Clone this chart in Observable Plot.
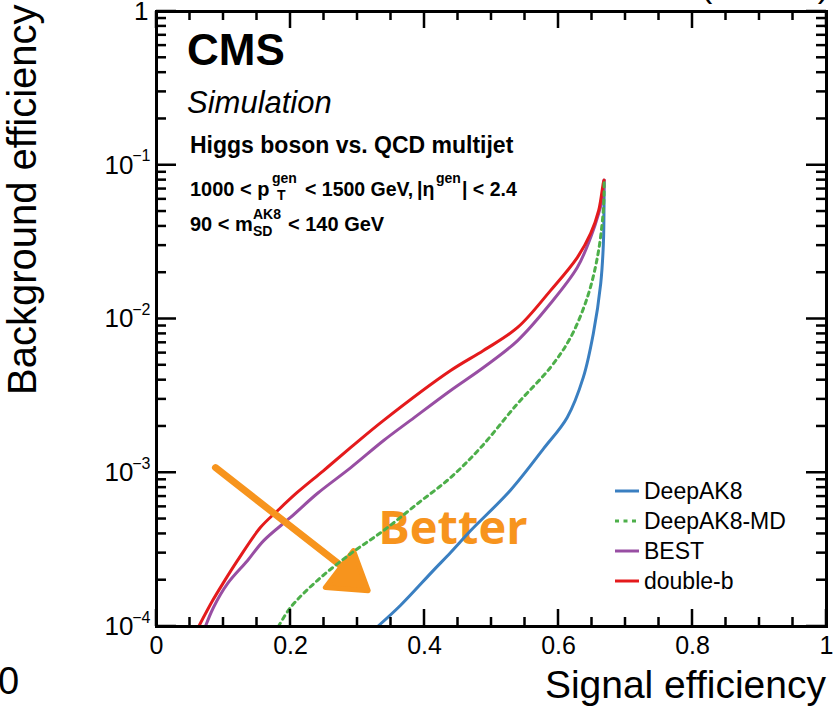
<!DOCTYPE html>
<html><head><meta charset="utf-8">
<script src="https://cdn.jsdelivr.net/npm/d3@7"></script>
<script src="https://cdn.jsdelivr.net/npm/@observablehq/plot@0.6"></script>
<style>html,body{margin:0;padding:0;background:#fff;overflow:hidden}</style>
</head><body><div id="chart"></div>
<script>
// ---------- data ----------
const seriesNames = ["DeepAK8", "DeepAK8-MD", "BEST", "double-b"];
const seriesColors = ["#3a7fc1", "#4daf4a", "#984ea3", "#e41a1c"];

const sigDeepAK8 = [0.330,0.364,0.413,0.439,0.469,0.528,0.578,0.613,0.637,0.652,0.663,0.667,0.668,0.668];
const bkgDeepAK8 = [1.0e-4,1.37e-4,2.31e-4,3.03e-4,4.21e-4,7.67e-4,1.44e-3,2.29e-3,4.17e-3,8.05e-3,0.0170,0.0310,0.0590,0.0800];

const sigDeepAK8MD = [0.182,0.200,0.240,0.290,0.339,0.390,0.439,0.484,0.539,0.588,0.618,0.643,0.658,0.666,0.668,0.668];
const bkgDeepAK8MD = [1.0e-4,1.33e-4,1.99e-4,2.98e-4,4.21e-4,6.31e-4,9.31e-4,1.46e-3,2.82e-3,4.84e-3,7.58e-3,0.0138,0.0251,0.0457,0.0655,0.0800];

const sigBEST = [0.073,0.085,0.106,0.136,0.160,0.200,0.240,0.290,0.339,0.379,0.439,0.488,0.539,0.588,0.628,0.648,0.660,0.667,0.668];
const bkgBEST = [1.0e-4,1.33e-4,1.90e-4,2.69e-4,3.62e-4,5.12e-4,7.33e-4,1.08e-3,1.62e-3,2.19e-3,3.43e-3,4.84e-3,7.24e-3,0.0126,0.0216,0.0339,0.0486,0.0655,0.0800];

const sigDoubleB = [0.063,0.084,0.099,0.121,0.155,0.181,0.210,0.249,0.290,0.339,0.439,0.488,0.539,0.588,0.628,0.648,0.660,0.667,0.668];
const bkgDoubleB = [1.0e-4,1.48e-4,1.90e-4,2.69e-4,4.40e-4,5.68e-4,7.44e-4,1.03e-3,1.46e-3,2.19e-3,4.62e-3,6.24e-3,8.81e-3,0.0153,0.0251,0.0360,0.0508,0.0772,0.0800];

// annotation arrow ("Better") in data units
const arrowSig = [0.088, 0.275];
const arrowBkg = [1.08e-3, 2.49e-4];
const headSig = [0.294, 0.252, 0.316, 0.294];
const headBkg = [3.12e-4, 1.79e-4, 1.71e-4, 3.12e-4];
const betterLabel = {sig: 0.331, bkg: 4.3e-4, text: "Better"};

// ticks / labels
const xMajorTicks = [0, 0.2, 0.4, 0.6, 0.8, 1];
const xTickLabels = ["0", "0.2", "0.4", "0.6", "0.8", "1"];
const yMajorTicks = [1e-4, 1e-3, 1e-2, 1e-1, 1];
const yTickExponents = ["\u22124", "\u22123", "\u22122", "\u22121"];

(function () {
const sigs = [sigDeepAK8, sigDeepAK8MD, sigBEST, sigDoubleB];
const bkgs = [bkgDeepAK8, bkgDeepAK8MD, bkgBEST, bkgDoubleB];
const rows = seriesNames.flatMap((name, i) => sigs[i].map((s, j) => ({series: name, sig: s, bkg: bkgs[i][j]})));
const arrowRows = arrowSig.map((s, i) => ({sig: s, bkg: arrowBkg[i]}));
const headRows = headSig.map((s, i) => ({sig: s, bkg: headBkg[i]}));

const xMinorTicks = d3.range(1, 20).filter(k => k % 4 !== 0).map(k => k * 0.05);
const yMinorTicks = [-4, -3, -2, -1].flatMap(e => d3.range(2, 10).map(k => k * Math.pow(10, e)));

const W = 840, H = 713, mL = 156, mR = 14, mT = 11, mB = 87;
const FONT = "'Liberation Sans', Arial, Helvetica, sans-serif";
const ORANGE = "#f7941d";

function seriesLine(i, extra = {}) {
  return Plot.line(rows.filter(r => r.series === seriesNames[i]), {
    x: "sig", y: "bkg", stroke: seriesColors[i], strokeWidth: 3, clip: true, curve: "catmull-rom", ...extra
  });
}

const svg = Plot.plot({
  width: W, height: H,
  marginLeft: mL, marginRight: mR, marginTop: mT, marginBottom: mB,
  style: {fontFamily: FONT, background: "white", overflow: "visible", color: "black"},
  x: {domain: [0, 1], axis: null},
  y: {type: "log", domain: [1e-4, 1], axis: null},
  marks: [
    Plot.text([betterLabel], {x: "sig", y: "bkg", text: "text", textAnchor: "start", lineAnchor: "middle",
      fill: ORANGE, fontSize: 47, fontWeight: "bold", fontFamily: "'Open Sans', sans-serif"}),
    seriesLine(0),
    seriesLine(2),
    seriesLine(3),
    Plot.line(arrowRows, {x: "sig", y: "bkg", stroke: ORANGE, strokeWidth: 7, strokeLinecap: "round"}),
    Plot.line(headRows, {x: "sig", y: "bkg", stroke: ORANGE, fill: ORANGE, strokeWidth: 5, strokeLinejoin: "round"}),
    seriesLine(1, {strokeDasharray: "4,4.5"}),
    Plot.frame({stroke: "black", strokeWidth: 3}),
    // tick labels
    Plot.text(xMajorTicks, {x: d => d, frameAnchor: "bottom", dy: 19, text: (d, i) => xTickLabels[i], fontSize: 25, lineAnchor: "middle"}),
    Plot.text(yMajorTicks.slice(0, 4), {y: d => d, frameAnchor: "left", dx: -23, text: () => "10", textAnchor: "end", fontSize: 26, lineAnchor: "middle"}),
    Plot.text(yMajorTicks.slice(0, 4), {y: d => d, frameAnchor: "left", dx: -6, dy: -9, text: (d, i) => yTickExponents[i], textAnchor: "end", fontSize: 16, lineAnchor: "middle"}),
    Plot.text([1], {y: d => d, frameAnchor: "left", dx: -8, text: () => "1", textAnchor: "end", fontSize: 26, lineAnchor: "middle"})
  ]
});

document.getElementById("chart").appendChild(svg);

const g = d3.select(svg).append("g").attr("font-family", FONT).attr("fill", "black").attr("text-anchor", "start");

// ---------- inward ticks on all four sides (filled slivers) ----------
const fL = mL, fR = W - mR, fT = mT, fB = H - mB;
let xs = null, ys = null;
try { xs = svg.scale("x"); ys = svg.scale("y"); } catch (e) {}
const xFallback = d3.scaleLinear([0, 1], [fL, fR]);
const yFallback = d3.scaleLog([1e-4, 1], [fB, fT]);
function xPix(v) { let p = xs && xs.apply ? +xs.apply(v) : NaN; return isFinite(p) ? p : xFallback(v); }
function yPix(v) { let p = ys && ys.apply ? +ys.apply(v) : NaN; return isFinite(p) ? p : yFallback(v); }
const TW = 2.5;
function bar(x, y, w, h) {
  g.append("rect").attr("x", x).attr("y", y).attr("width", w).attr("height", h)
    .attr("fill", "#000").attr("stroke", "none");
}
function xTicks(vals, len) {
  vals.forEach(v => {
    const px = xPix(v);
    bar(px - TW / 2, fB - len, TW, len);
    bar(px - TW / 2, fT, TW, len);
  });
}
function yTicks(vals, len) {
  vals.forEach(v => {
    const py = yPix(v);
    bar(fL, py - TW / 2, len, TW);
    bar(fR - len, py - TW / 2, len, TW);
  });
}
xTicks(xMajorTicks, 17);
xTicks(xMinorTicks, 9);
yTicks(yMajorTicks, 20);
yTicks(yMinorTicks, 10);

// ---------- text annotations ----------
function txt(x, y, s, size, opts = {}) {
  const t = g.append("text").attr("x", x).attr("y", y).attr("font-size", size)
    .attr("text-anchor", opts.anchor || "start").text(s);
  if (opts.weight) t.attr("font-weight", opts.weight);
  if (opts.style) t.attr("font-style", opts.style);
  if (opts.transform) t.attr("transform", opts.transform);
  return t;
}

txt(826, 698, "Signal efficiency", 39, {anchor: "end"});
txt(0, 0, "Background efficiency", 40, {anchor: "start", transform: "translate(36,395) rotate(-90)"});
txt(829, -3, "(13 TeV)", 34, {anchor: "end"});
txt(-2, 694, "0", 38);

txt(187, 65, "CMS", 44, {weight: "bold"});
txt(187, 113, "Simulation", 31, {style: "italic"});
txt(190, 153, "Higgs boson vs. QCD multijet", 23, {weight: "bold"});

txt(190, 196, "1000 < p", 20, {weight: "bold"});
txt(272, 183, "gen", 14, {weight: "bold"});
txt(277, 200, "T", 14, {weight: "bold"});
txt(305, 196, "< 1500 GeV,", 19.5, {weight: "bold"});
txt(417, 196, "|\u03b7", 19.5, {weight: "bold"});
txt(436, 183, "gen", 14, {weight: "bold"});
txt(462, 196, "| < 2.4", 19.5, {weight: "bold"});

txt(190, 231, "90 < m", 20, {weight: "bold"});
txt(253, 219, "AK8", 14, {weight: "bold"});
txt(253, 236, "SD", 14, {weight: "bold"});
txt(288, 231, "< 140 GeV", 20, {weight: "bold"});

const legendY = [491, 521, 551, 581];
seriesNames.forEach((name, i) => {
  const ln = g.append("line").attr("x1", 615).attr("x2", 639).attr("y1", legendY[i]).attr("y2", legendY[i])
    .attr("stroke", seriesColors[i]).attr("stroke-width", 3);
  if (name === "DeepAK8-MD") ln.attr("stroke-dasharray", "4,4.5");
  txt(644, legendY[i], name, 23).attr("dominant-baseline", "central");
});
})();
</script>
</body></html>
